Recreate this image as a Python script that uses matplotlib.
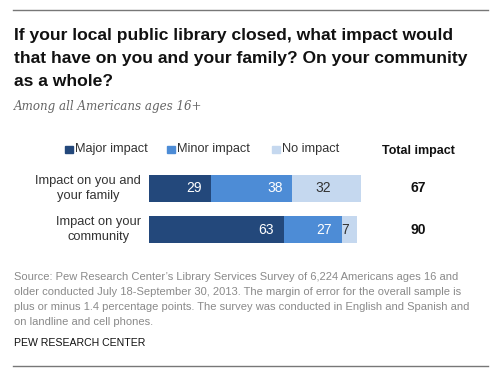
import matplotlib
matplotlib.use("Agg")
import matplotlib.pyplot as plt
from matplotlib.patches import Rectangle
from matplotlib.lines import Line2D
import numpy as np

categories = ["Impact on you and\nyour family", "Impact on your\ncommunity"]
series_names = ["Major impact", "Minor impact", "No impact"]
major = [29, 63]
minor = [38, 27]
no_impact = [32, 7]
total = [67, 90]
colors = ["#23487b", "#4d8cd6", "#c5d8ef"]
label_colors = ["white", "white", "#333333"]

W, H = 500, 380
fig = plt.figure(figsize=(W / 100, H / 100), dpi=100)

def fx(px):
    return px / W

def fy(py):
    return 1 - py / H

# rules
fig.add_artist(Line2D([fx(13), fx(488)], [fy(10), fy(10)], color="#777777", lw=1.0))
fig.add_artist(Line2D([fx(13), fx(488)], [fy(366), fy(366)], color="#777777", lw=1.0))

# title
title_lines = ["If your local public library closed, what impact would",
               "that have on you and your family? On your community",
               "as a whole?"]
for line, base in zip(title_lines, [40, 63.5, 86]):
    fig.text(fx(14), fy(base), line, fontsize=12.6, fontweight="bold", family="Liberation Sans",
             color="#111111", va="baseline", ha="left")
fig.text(fx(14), fy(110), "Among all Americans ages 16+", fontsize=8.6, style="italic",
         family="DejaVu Serif", color="#666666", va="baseline", ha="left")

# axes for bars
ax_left, ax_right = 149, 149 + 214
ax_top, ax_bot = 167.6, 250.4
ax = fig.add_axes([fx(ax_left), fy(ax_bot), fx(ax_right - ax_left), (ax_bot - ax_top) / H])
ax.set_xlim(0, 100)
ax.set_ylim(1.5, -0.5)
ax.axis("off")

y = np.arange(len(categories))
left = np.zeros(len(categories))
for vals, col, lc, name in zip([major, minor, no_impact], colors, label_colors, series_names):
    vals = np.array(vals, dtype=float)
    ax.barh(y, vals, left=left, height=0.655, color=col, edgecolor="none")
    for i, v in enumerate(vals):
        if name == "No impact":
            ax.annotate(f"{int(v)}", (left[i] + v / 2, y[i]), xytext=(-2.5, 0),
                        textcoords="offset points", ha="center", va="center",
                        fontsize=10, color=lc, family="Liberation Sans")
        else:
            ax.annotate(f"{int(v)}", (left[i] + v, y[i]), xytext=(-7, 0),
                        textcoords="offset points", ha="right", va="center",
                        fontsize=10, color=lc, family="Liberation Sans")
    left = left + vals

for i, cat in enumerate(categories):
    ax.annotate(cat, (0, y[i]), xytext=(-6, 0), textcoords="offset points",
                ha="right", va="center", multialignment="center", fontsize=9.3,
                color="#333333", family="Liberation Sans", linespacing=1.3,
                annotation_clip=False)
    ax.annotate(f"{total[i]}", (fx(418), y[i]), xycoords=("figure fraction", "data"),
                ha="center", va="center", fontsize=10, fontweight="bold",
                color="#111111", family="Liberation Sans", annotation_clip=False)

# legend
leg_x = [65, 167, 272]
for xx, col, name in zip(leg_x, colors, series_names):
    fig.add_artist(Rectangle((fx(xx), fy(153)), fx(7.5), 7.5 / H, color=col,
                             transform=fig.transFigure))
    fig.text(fx(xx + 10), fy(149), name, fontsize=9.2, color="#333333",
             family="Liberation Sans", va="center", ha="left")
fig.text(fx(418), fy(151), "Total impact", fontsize=9, fontweight="bold", color="#111111",
         family="Liberation Sans", va="center", ha="center")

source_lines = ["Source: Pew Research Center\u2019s Library Services Survey of 6,224 Americans ages 16 and",
                "older conducted July 18-September 30, 2013. The margin of error for the overall sample is",
                "plus or minus 1.4 percentage points. The survey was conducted in English and Spanish and",
                "on landline and cell phones."]
for line, base in zip(source_lines, [280, 295, 310, 325]):
    fig.text(fx(14), fy(base), line, fontsize=8.0, color="#8a8a8a", family="Liberation Sans",
             va="baseline", ha="left")
fig.text(fx(14), fy(346), "PEW RESEARCH CENTER", fontsize=7.6, color="#111111",
         family="Liberation Sans", va="baseline", ha="left")

fig.savefig("out.png", dpi=100, facecolor="white")
